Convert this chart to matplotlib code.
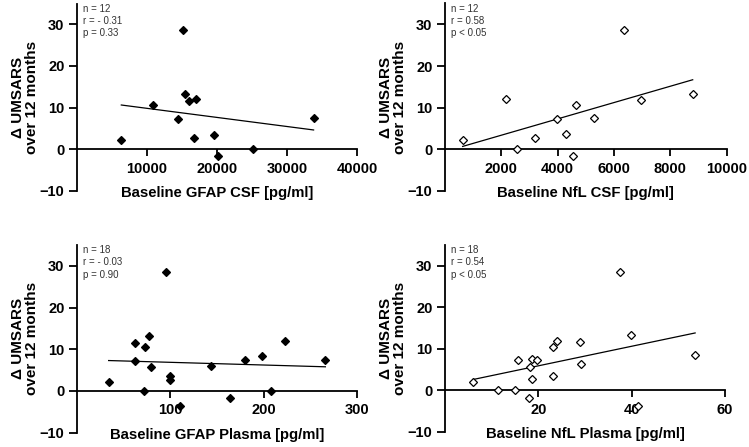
import matplotlib
matplotlib.use("Agg")
import matplotlib.pyplot as plt

plt.rcParams['font.family'] = ['Liberation Sans', 'DejaVu Sans']

# ---- data ----
umsars_csf = [2.1, 10.5, 7.2, 28.7, 13.3, 11.6, 12.0, 2.7, 3.5, -1.6, 0.0, 7.5]
gfap_csf = [6330, 10860, 14380, 15090, 15470, 15950, 17000, 16760, 19520, 20140, 25090, 33800]

nfl_csf = [627, 2154, 2544, 3195, 3988, 4284, 4533, 4663, 5290, 6367, 6947, 8793]
umsars_nfl_csf = [2.2, 12.0, 0.0, 2.8, 7.3, 3.6, -1.5, 10.6, 7.6, 28.7, 11.8, 13.3]

gfap_plasma = [33.9, 62.5, 62.5, 72.5, 72.1, 77.5, 79.3, 95.0, 99.6, 99.6, 110.7,
               143.9, 164.3, 180.4, 197.9, 208.2, 222.9, 266.1]
umsars_gfap_plasma = [2.2, 11.6, 7.2, 10.5, 0.0, 13.2, 5.7, 28.6, 3.6, 2.6, -3.6,
                      6.1, -1.6, 7.5, 8.3, 0.0, 11.9, 7.4]

nfl_plasma = [6.1, 11.3, 14.9, 15.7, 18.0, 18.3, 18.6, 18.6, 19.7, 23.1, 23.2, 23.9,
              29.0, 29.2, 37.6, 39.9, 41.4, 53.6]
umsars_nfl_plasma = [2.0, 0.0, 0.0, 7.3, -1.8, 5.6, 7.5, 2.7, 7.3, 3.5, 10.5, 11.9,
                     11.7, 6.2, 28.6, 13.2, -3.7, 8.4]

# regression lines (endpoints as drawn)
fit1_x, fit1_y = [6330, 33800], [10.6, 4.6]
fit2_x, fit2_y = [627, 8793], [0.7, 16.7]
fit3_x, fit3_y = [33.9, 266.1], [7.3, 5.8]
fit4_x, fit4_y = [6.1, 53.6], [2.6, 13.8]

stats1 = "n = 12\nr = - 0.31\np = 0.33"
stats2 = "n = 12\nr = 0.58\np < 0.05"
stats3 = "n = 18\nr = - 0.03\np = 0.90"
stats4 = "n = 18\nr = 0.54\np < 0.05"

xlab1 = "Baseline GFAP CSF [pg/ml]"
xlab2 = "Baseline NfL CSF [pg/ml]"
xlab3 = "Baseline GFAP Plasma [pg/ml]"
xlab4 = "Baseline NfL Plasma [pg/ml]"
ylab = "Δ UMSARS\nover 12 months"

y_ticks = [-10, 0, 10, 20, 30]

W, H = 749, 447
fig = plt.figure(figsize=(W / 100, H / 100), dpi=100)

def frac(left_px, right_px, top_px, bottom_px):
    return [left_px / W, (H - bottom_px) / H, (right_px - left_px) / W, (bottom_px - top_px) / H]

panels = [
    dict(rect=frac(77, 357, 3.5, 190.7), x=gfap_csf, y=umsars_csf, filled=True,
         fx=fit1_x, fy=fit1_y, xlim=(0, 40000), xt=[10000, 20000, 30000, 40000],
         stats=stats1, xlabel=xlab1),
    dict(rect=frac(445, 726.7, 3.5, 191.0), x=nfl_csf, y=umsars_nfl_csf, filled=False,
         fx=fit2_x, fy=fit2_y, xlim=(0, 10000), xt=[2000, 4000, 6000, 8000, 10000],
         stats=stats2, xlabel=xlab2),
    dict(rect=frac(77, 357, 245.0, 432.7), x=gfap_plasma, y=umsars_gfap_plasma, filled=True,
         fx=fit3_x, fy=fit3_y, xlim=(0, 300), xt=[100, 200, 300],
         stats=stats3, xlabel=xlab3),
    dict(rect=frac(445, 725, 245.0, 431.7), x=nfl_plasma, y=umsars_nfl_plasma, filled=False,
         fx=fit4_x, fy=fit4_y, xlim=(0, 60), xt=[20, 40, 60],
         stats=stats4, xlabel=xlab4),
]

for p in panels:
    ax = fig.add_axes(p['rect'])
    ax.set_xlim(*p['xlim'])
    ax.set_ylim(-10, 35)
    ax.plot(p['fx'], p['fy'], color='black', lw=0.9, zorder=2)
    ax.plot(p['x'], p['y'], linestyle='none', marker='D', markersize=3.8,
            markerfacecolor='black' if p['filled'] else 'white',
            markeredgecolor='black', markeredgewidth=0.9, zorder=3, clip_on=False)
    for s in ['top', 'right']:
        ax.spines[s].set_visible(False)
    ax.spines['bottom'].set_position(('data', 0))
    for s in ['left', 'bottom']:
        ax.spines[s].set_linewidth(1.3)
    ax.set_yticks(y_ticks)
    ax.set_xticks(p['xt'])
    ax.tick_params(axis='y', direction='out', length=6, width=1.3, pad=3,
                   labelsize=10.5)
    ax.tick_params(axis='x', direction='out', length=5, width=1.3, pad=4,
                   labelsize=10.5)
    for lab in ax.get_xticklabels() + ax.get_yticklabels():
        lab.set_fontweight('bold')
    ax.patch.set_visible(False)
    ax.text(0.02, 1.0, p['stats'], transform=ax.transAxes, ha='left', va='top',
            fontsize=7, color='#333333', linespacing=1.3)
    ax.text(0.5, -0.01, p['xlabel'], transform=ax.transAxes, ha='center', va='center',
            fontsize=10.7, fontweight='bold')
    ax.text(-0.186, 0.5, ylab, transform=ax.transAxes, ha='center', va='center',
            rotation=90, fontsize=11, fontweight='bold', linespacing=1.0,
            multialignment='center')

fig.savefig('out.png', dpi=100)
